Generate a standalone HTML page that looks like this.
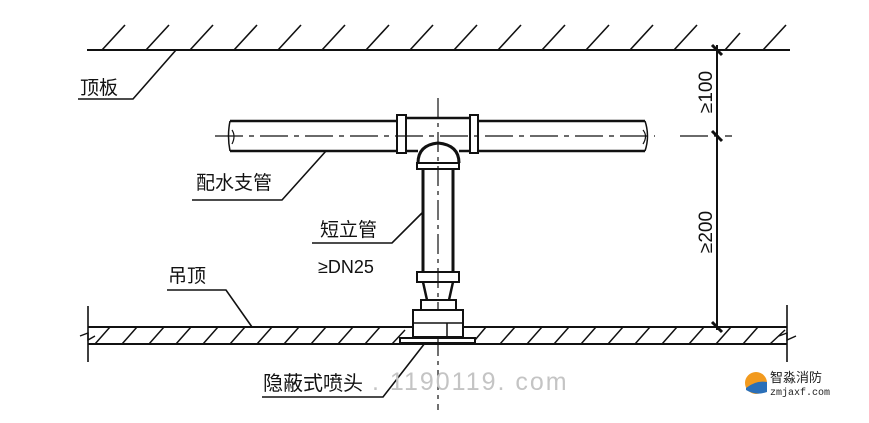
<!DOCTYPE html>
<html><head><meta charset="utf-8"><style>
html,body{margin:0;padding:0;background:#fff;width:869px;height:423px;overflow:hidden}
svg{display:block}
.t{font-family:"Liberation Sans","Noto Sans CJK SC",sans-serif;font-size:19px;fill:#111}
</style></head><body>
<svg width="869" height="423" viewBox="0 0 869 423" xmlns="http://www.w3.org/2000/svg">
<g stroke="#111" stroke-width="2" fill="none">
<!-- top slab -->
<line x1="87" y1="50" x2="790" y2="50"/>
<g stroke-width="1.6">
<path d="M102 50 L125 25 M146 50 L169 25 M190 50 L213 25 M234 50 L257 25 M278 50 L301 25 M322 50 L345 25 M366 50 L389 25 M410 50 L433 25 M454 50 L477 25 M498 50 L521 25 M542 50 L565 25 M586 50 L609 25 M630 50 L653 25 M674 50 L697 25 M725 50 L740 33 M763 50 L786 25"/>
</g>
<!-- 顶板 leader -->
<path d="M176 50 L133 99 L78 99" stroke-width="1.6"/>
<!-- suspended ceiling -->
<line x1="88" y1="327" x2="787" y2="327"/>
<line x1="88" y1="344" x2="787" y2="344"/>
<line x1="88" y1="306" x2="88" y2="362" stroke-width="1.6"/>
<line x1="787" y1="305" x2="787" y2="362" stroke-width="1.6"/>
<path d="M80 336 L88 333 L88 340 L95 336" stroke-width="1.4"/>
<path d="M779 336 L787 333 L787 340 L796 336" stroke-width="1.4"/>
<g stroke-width="1.5">
<path d="M95 344 L110 327 M122 344 L137 327 M149 344 L164 327 M176 344 L191 327 M203 344 L218 327 M230 344 L245 327 M257 344 L272 327 M284 344 L299 327 M311 344 L326 327 M338 344 L353 327 M365 344 L380 327 M392 344 L405 330 M475 340 L486 327 M500 344 L515 327 M527 344 L542 327 M554 344 L569 327 M581 344 L596 327 M608 344 L623 327 M635 344 L650 327 M662 344 L677 327 M689 344 L704 327 M716 344 L731 327 M743 344 L758 327 M770 344 L785 330"/>
</g>
<!-- horizontal pipe -->
<path d="M230 121 L397 121 M230 151 L397 151 M478 121 L645 121 M478 151 L645 151" stroke-width="2.5"/>
<path d="M230 121 Q227 136 230 151 M645 121 Q650 136 645 151" stroke-width="1.5"/>
<path d="M232 130 Q236 136 232 144 M643 130 Q648 136 643 144" stroke-width="1.2"/>
<path d="M215 136 L655 136 M680 136 L732 136" stroke-width="1.3" stroke-dasharray="28 6 5 6"/>
<!-- tee -->
<rect x="397" y="115" width="9" height="38" stroke-width="2"/>
<rect x="470" y="115" width="8" height="38" stroke-width="2"/>
<path d="M406 118 L470 118 M406 151 L418 151 M459 151 L470 151" stroke-width="2.5"/>
<path d="M418 163 Q418 145 438 143 Q459 145 459 163" stroke-width="3"/>
<rect x="417" y="163" width="42" height="6" stroke-width="2"/>
<line x1="438" y1="98" x2="438" y2="410" stroke-width="1.2" stroke-dasharray="20 5 4 5"/>
<!-- vertical pipe -->
<path d="M423 169 L423 272 M453 169 L453 272" stroke-width="3"/>
<rect x="417" y="272" width="42" height="10" stroke-width="2"/>
<path d="M423 282 L427 300 M453 282 L449 300" stroke-width="2.5"/>
<rect x="421" y="300" width="35" height="10" stroke-width="2"/>
<rect x="413" y="310" width="50" height="27" stroke-width="2" fill="#fff"/>
<line x1="413" y1="323" x2="463" y2="323" stroke-width="1.5"/>
<line x1="447" y1="323" x2="447" y2="337" stroke-width="1.5"/>
<path d="M400 338 L475 338 L475 343 L400 343 Z" stroke-width="2"/>
<!-- leaders -->
<path d="M326 151 L282 200 L192 200" stroke-width="1.6"/>
<path d="M423 212 L392 243 L312 243" stroke-width="1.6"/>
<path d="M252 327 L226 290 L167 290" stroke-width="1.6"/>
<path d="M425 343 L383 397 L262 397" stroke-width="1.6"/>
<!-- dimension -->
<line x1="717" y1="45" x2="717" y2="330"/>
<path d="M712 45 L722 55 M712 131 L722 141 M712 322 L722 332" stroke-width="3"/>
</g>
<text class="t" x="80" y="94">顶板</text>
<text class="t" x="196" y="189">配水支管</text>
<text class="t" x="320" y="236">短立管</text>
<text class="t" x="318" y="273" style="font-size:18px">≥DN25</text>
<text class="t" x="168" y="282">吊顶</text>
<text class="t" x="263" y="390" style="font-size:20px">隐蔽式喷头</text>
<text x="372" y="390" font-family="Liberation Sans,sans-serif" font-size="25" fill="#c4c4c4" letter-spacing="2">. 1190119. com</text>
<text class="t" transform="translate(712,92) rotate(-90)" text-anchor="middle" style="font-size:19px">≥100</text>
<text class="t" transform="translate(712,232) rotate(-90)" text-anchor="middle" style="font-size:19px">≥200</text>
<!-- logo -->
<circle cx="756" cy="383" r="11" fill="#f29a1e"/>
<path d="M746 388 Q756 380 767 382 L767 392 Q756 396 746 390Z" fill="#2a6fb8"/>
<text x="770" y="382" font-family="Liberation Sans,Noto Sans CJK SC,sans-serif" font-size="13" fill="#222">智淼消防</text>
<text x="770" y="395" font-family="Liberation Mono,monospace" font-size="10" fill="#222">zmjaxf.com</text>
</svg>
</body></html>
